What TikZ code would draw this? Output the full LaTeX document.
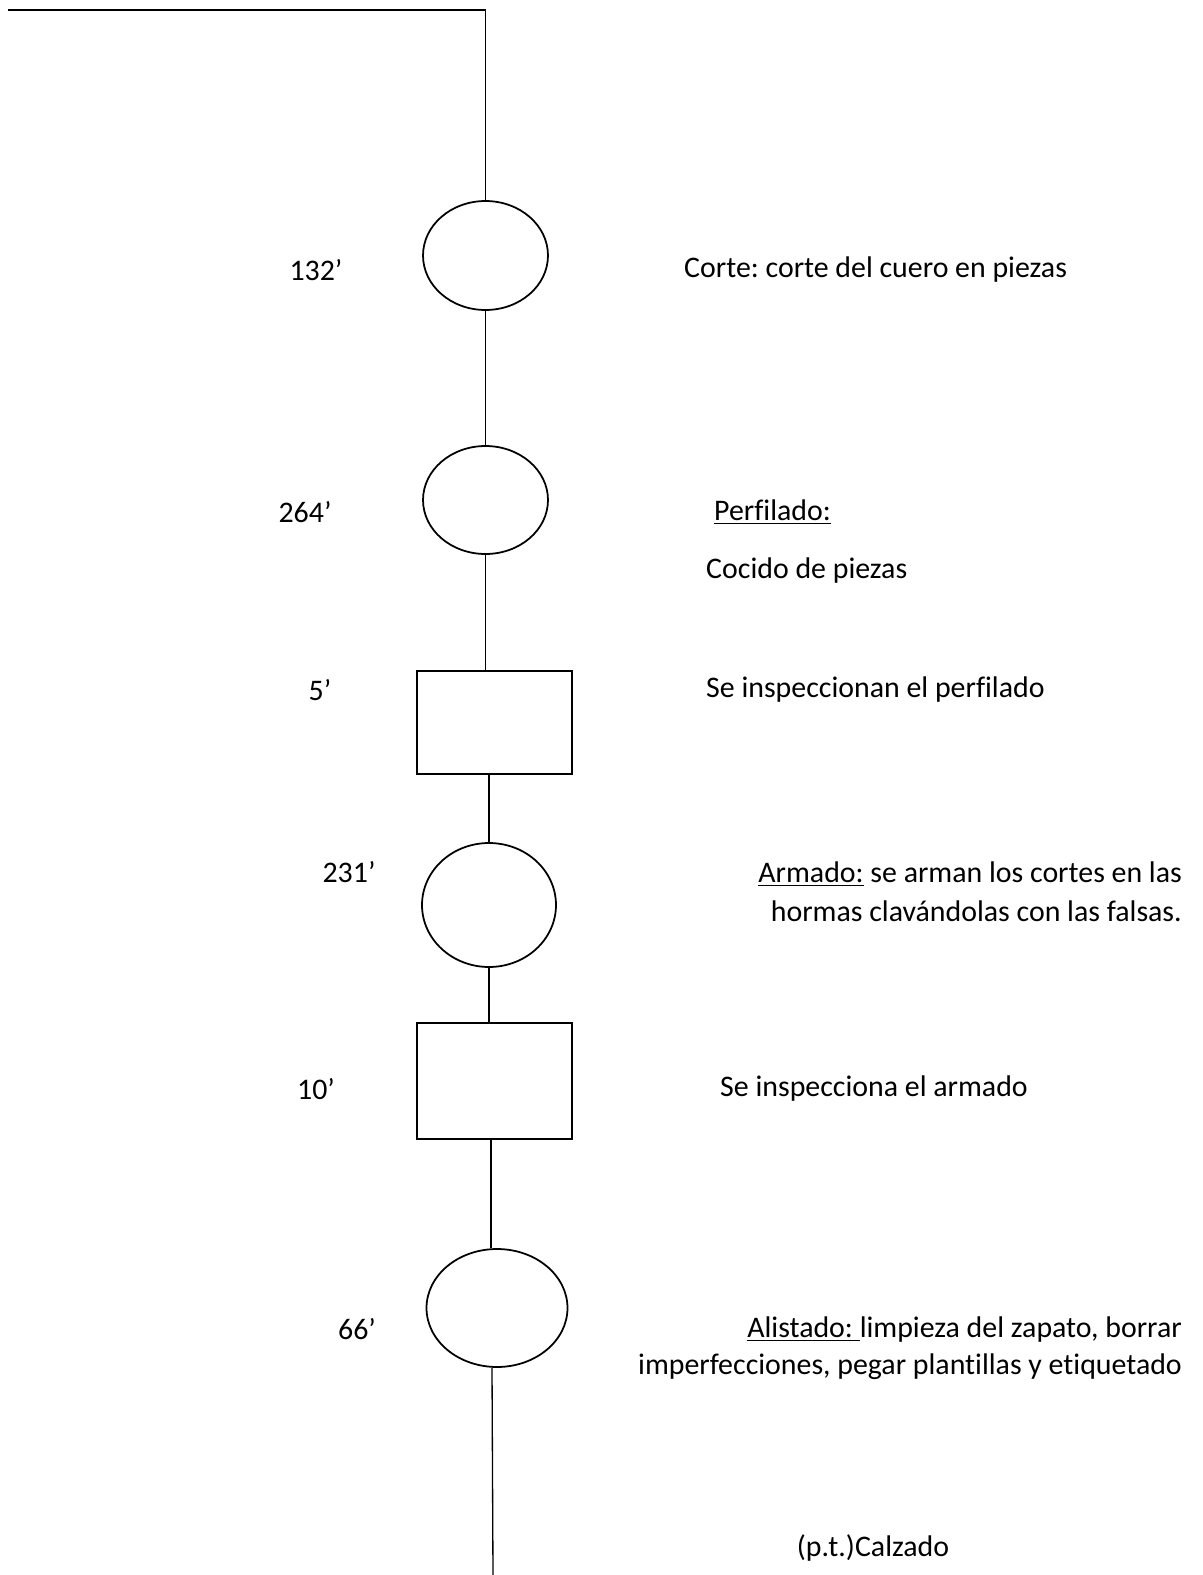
\documentclass[tikz,border=0pt]{standalone}
\usepackage{fontspec}
\setmainfont{Carlito}[Ligatures=NoCommon]
\usetikzlibrary{shapes.geometric}
\begin{document}
\frenchspacing
\begin{tikzpicture}[x=0.02cm, y=-0.02cm,
    every node/.style={font=\fontsize{17}{21}\selectfont},
    flow/.style={line width=0.75pt},
    op/.style={draw, ellipse, line width=1pt, inner sep=0pt},
    insp/.style={draw, rectangle, line width=1pt, inner sep=0pt, minimum width=3.1cm}]
      \useasboundingbox (0,0) rectangle (1203,1575);
      % operaciones e inspecciones
      \node[op, minimum width=2.5cm, minimum height=2.18cm] (corte) at (485.5,255.5) {};
      \node[op, minimum width=2.5cm, minimum height=2.16cm] (perfilado) at (485.5,500) {};
      \node[insp, minimum height=2.06cm] (inspPerf) at (494.5,722.5) {};
      \node[op, minimum width=2.68cm, minimum height=2.48cm] (armado) at (489,905) {};
      \node[insp, minimum height=2.32cm] (inspArm) at (494.5,1081) {};
      \node[op, minimum width=2.82cm, minimum height=2.36cm] (alistado) at (497,1308) {};
      \coordinate (ini) at (8,10);
      \coordinate (esq) at (485.5,10);
      \coordinate (fin) at (493,1575);
      % lineas
      \draw[flow] (ini) -- (esq) -- (corte.north);
      \draw[flow] (corte.south) -- (perfilado.north);
      \draw[flow] (perfilado.south) -- (perfilado.south |- inspPerf.north);
      \draw[flow] (inspPerf.south -| armado.north) -- (armado.north);
      \draw[flow] (armado.south) -- (armado.south |- inspArm.north);
      \draw[flow] (inspArm.south -| 491,0) -- (alistado.north -| 491,0);
      \draw[flow] (alistado.south -| 492,0) -- (fin);
      % tiempos
      \node (t1) at (316,270) {132’};
      \node (t2) at (305,512) {264’};
      \node (t3) at (320,690) {5’};
      \node (t4) at (349,872) {231’};
      \node (t5) at (316,1089) {10’};
      \node (t6) at (357,1329) {66’};
      % descripciones
      \node[anchor=west] (d1) at (678,270) {Corte: corte del cuero en piezas};
      \node[anchor=west] (d2) at (708,512) {\underline{Perfilado:}};
      \node[anchor=west] (d3) at (700,571) {Cocido de piezas};
      \node[anchor=west] (d4) at (700,690) {Se inspeccionan el perfilado};
      \node[anchor=east, align=right] (d5) at (1188,892)
        {\underline{Armado:} se arman los cortes en las\\[1pt]hormas clavándolas con las falsas.};
      \node[anchor=west] (d6) at (714,1089) {Se inspecciona el armado};
      \node[anchor=east, align=right] (d7) at (1188,1348)
        {\underline{Alistado: }limpieza del zapato, borrar\\imperfecciones, pegar plantillas y etiquetado};
      \node (d8) at (873,1548) {(p.t.)Calzado};
\end{tikzpicture}
\end{document}
